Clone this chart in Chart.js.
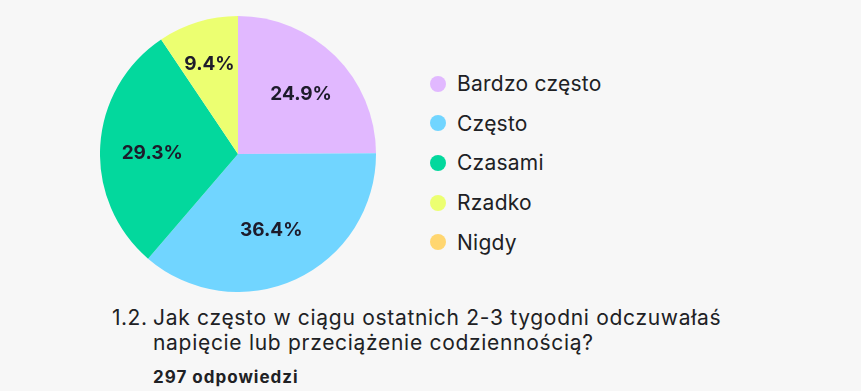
<!DOCTYPE html>
<html lang="pl">
<head>
  <meta charset="UTF-8">
  <title>Jak często w ciągu ostatnich 2-3 tygodni odczuwałaś napięcie</title>
  <script src="https://cdn.jsdelivr.net/npm/chart.js"></script>
  <style>
    body { margin: 0; background: #f7f7f7; font-family: Inter, "Noto Sans", sans-serif; color: #202124; }
    #wrap { position: relative; width: 861px; height: 391px; overflow: hidden; }
    #pieBox { position: absolute; left: 100px; top: 16px; width: 276px; height: 276px; }
    #legend { position: absolute; left: 430px; top: 64px; margin: 0; padding: 0; list-style: none; }
    #legend li { height: 39.6px; display: flex; align-items: center; font-size: 21px; letter-spacing: 0.25px; }
    #legend .dot { width: 16px; height: 16px; border-radius: 50%; margin-right: 11px; }
    #question { position: absolute; left: 112px; top: 305px; font-size: 21px; line-height: 25px; letter-spacing: 0.7px; display: flex; }
    #question .num { width: 41px; letter-spacing: 0.5px; }
    #count { position: absolute; left: 153px; top: 367px; font-size: 17px; font-weight: 700; letter-spacing: 1px; }
  </style>
</head>
<body>
  <div id="wrap">
    <div id="pieBox"><canvas id="pie"></canvas></div>
    <ul id="legend"></ul>
    <div id="question"><span class="num">1.2.</span><span>Jak często w ciągu ostatnich 2-3 tygodni odczuwałaś<br>napięcie lub przeciążenie codziennością?</span></div>
    <div id="count">297 odpowiedzi</div>
  </div>

  <script>
    // Odpowiedzi i udziały procentowe
    const answers = ['Bardzo często', 'Często', 'Czasami', 'Rzadko', 'Nigdy'];
    const shares = [24.9, 36.4, 29.3, 9.4, 0];
    const colors = ['#e1b8ff', '#71d5ff', '#03d89d', '#ecff71', '#ffd670'];

    // Etykiety procentowe wewnątrz wycinków (w pobliżu środka ciężkości wycinka)
    const sliceLabels = {
      id: 'sliceLabels',
      afterDatasetsDraw(chart) {
        const ctx = chart.ctx;
        const meta = chart.getDatasetMeta(0);
        ctx.save();
        ctx.font = 'bold 19px Inter, sans-serif';
        ctx.fillStyle = '#1d1b2b';
        ctx.textAlign = 'center';
        ctx.textBaseline = 'alphabetic';
        meta.data.forEach((arc, i) => {
          const v = shares[i];
          if (!v) return;
          const p = arc.getProps(['x', 'y', 'startAngle', 'endAngle', 'outerRadius']);
          const theta = p.endAngle - p.startAngle;
          const mid = (p.startAngle + p.endAngle) / 2;
          const r = 1.08 * 4 * p.outerRadius * Math.sin(theta / 2) / (3 * theta);
          ctx.fillText(v.toFixed(1) + '%', p.x + Math.cos(mid) * r, p.y + Math.sin(mid) * r + 10);
        });
        ctx.restore();
      }
    };

    const chart = new Chart(document.getElementById('pie'), {
      type: 'pie',
      data: {
        labels: answers,
        datasets: [{
          data: shares,
          backgroundColor: colors,
          borderWidth: 0,
          hoverOffset: 0
        }]
      },
      options: {
        responsive: true,
        maintainAspectRatio: false,
        animation: false,
        layout: { padding: 0 },
        plugins: {
          legend: { display: false },
          tooltip: { enabled: false }
        }
      },
      plugins: [sliceLabels]
    });

    // Legenda z tych samych danych
    const legend = document.getElementById('legend');
    answers.forEach((name, i) => {
      const li = document.createElement('li');
      li.innerHTML = '<span class="dot" style="background:' + colors[i] + '"></span>' + name;
      legend.appendChild(li);
    });
  </script>
</body>
</html>
